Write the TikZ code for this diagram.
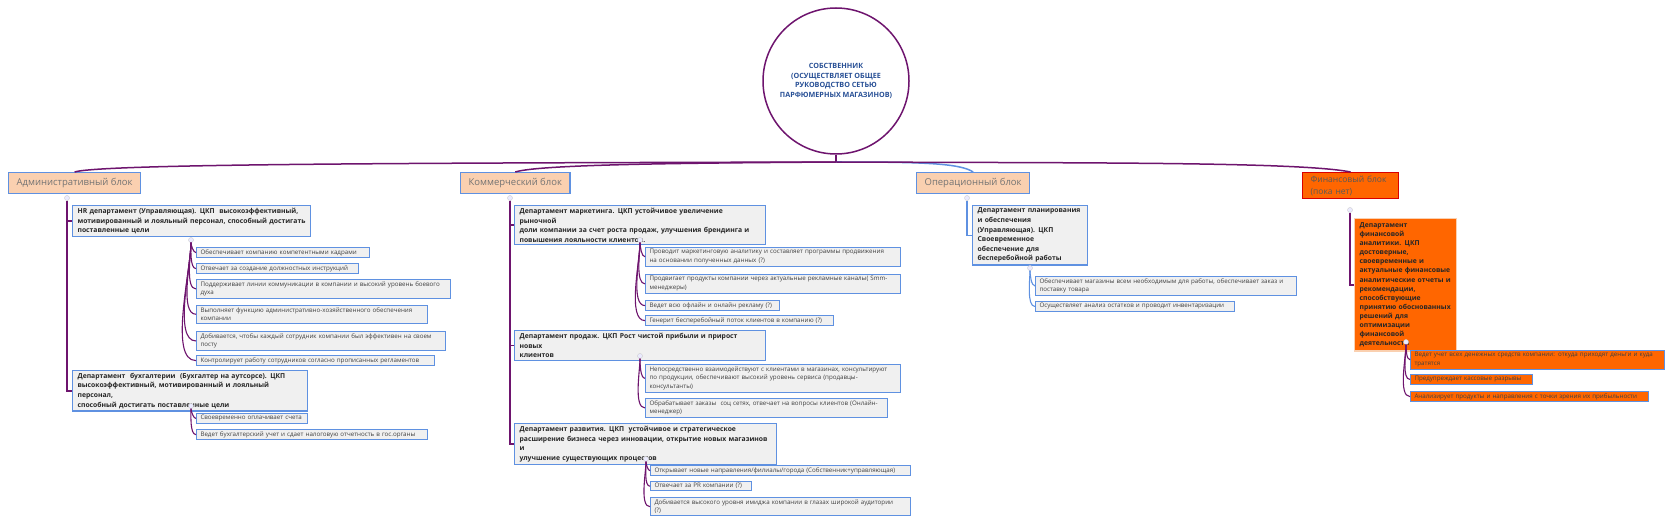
\documentclass[tikz,border=0pt]{standalone}
\usepackage{fontspec}
\setmainfont{Open Sans}
\definecolor{purp}{RGB}{110,20,110}
\definecolor{bord}{RGB}{95,145,225}
\definecolor{leafg}{RGB}{240,240,240}
\definecolor{peach}{RGB}{250,208,176}
\definecolor{orng}{RGB}{255,102,0}
\definecolor{ctext}{RGB}{40,80,150}
\definecolor{gtext}{RGB}{90,90,90}
\begin{document}
\begin{tikzpicture}[x=1pt,y=-1pt,
  block/.style={draw=bord,line width=1.2pt,fill=peach,anchor=north west,font=\fontsize{9.5}{12}\selectfont,text=gray!90!black,inner xsep=8pt,inner ysep=4pt,minimum height=21pt},
  dept/.style={draw=bord,line width=1.2pt,fill=leafg,anchor=north west,align=left,font=\bfseries\fontsize{6.8}{9.6}\selectfont,text=black!85,inner xsep=5pt,inner ysep=2.5pt},
  leaf/.style={draw=bord,line width=1pt,fill=leafg,anchor=north west,align=left,font=\fontsize{6.2}{8.7}\selectfont,text=black!75,inner xsep=4pt,inner ysep=2pt},
  con/.style={draw=purp,line width=1.5pt},
  lcon/.style={draw=purp,line width=1.1pt},
  dot/.style={circle,draw=gray!40,fill=blue!8,inner sep=0pt,minimum size=5pt}]
\useasboundingbox[fill=white] (0,0) rectangle (1673,529);
% root
\node[circle,draw=purp,line width=1.5pt,minimum size=146pt,align=center,font=\bfseries\fontsize{7.2}{9.5}\selectfont,text=ctext] (root) at (836,81) {СОБСТВЕННИК\\(ОСУЩЕСТВЛЯЕТ ОБЩЕЕ\\РУКОВОДСТВО СЕТЬЮ\\ПАРФЮМЕРНЫХ МАГАЗИНОВ)};
\coordinate (hub) at (836,162);
% blocks
\node[block,minimum width=118pt] (adm) at (8,172) {Административный блок};
\node[block,minimum width=98pt] (com) at (460,172) {Коммерческий блок};
\node[block,minimum width=101pt] (ops) at (916,172) {Операционный блок};
\node[block,fill=orng,draw=red!85!black,minimum width=93pt,align=left,text width=80pt,font=\fontsize{8.5}{12}\selectfont,text=gray!70!black,inner ysep=3pt] (fin) at (1302,172) {Финансовый блок\\(пока нет)};
% top connectors
\draw[con] (root.south) -- (hub);
\draw[con] (hub) .. controls (400,163) and (100,164) .. (adm.north);
\draw[con] (hub) .. controls (700,163) and (540,164) .. (com.north);
\draw[con,draw=bord] (hub) .. controls (920,162) and (960,163) .. (ops.north);
\draw[con] (hub) .. controls (1100,163) and (1300,162) .. (fin.north);
% ---------- admin
\node[dept,text width=228pt] (hr) at (72,205) {HR департамент (Управляющая). ЦКП\ \ высокоэффективный,\\мотивированный и лояльный персонал, способный достигать\\поставленные цели};
\node[dept,text width=225pt] (bu) at (72,370) {Департамент\ \ бухгалтерии\ \ (Бухгалтер на аутсорсе). ЦКП\\высокоэффективный, мотивированный и лояльный персонал,\\способный достигать поставленные цели};
\node[dot] (ad) at (67,198) {};
\draw[con] (ad) |- (hr.west);
\draw[con] (ad) |- (bu.west);
\node[leaf,text width=165pt] (h1) at (196,247) {Обеспечивает компанию компетентными кадрами};
\node[leaf,text width=154pt] (h2) at (196,263) {Отвечает за создание должностных инструкций};
\node[leaf,text width=246pt] (h3) at (196,279) {Поддерживает линии коммуникации в компании и высокий уровень боевого\\духа};
\node[leaf,text width=223pt] (h4) at (196,305) {Выполняет функцию административно-хозяйственного обеспечения\\компании};
\node[leaf,text width=241pt] (h5) at (196,331) {Добивается, чтобы каждый сотрудник компании был эффективен на своем\\посту};
\node[leaf,text width=230pt] (h6) at (196,355) {Контролирует работу сотрудников согласно прописанных регламентов};
\node[dot] (hd) at (191,240) {};
\foreach \n in {h1,h2,h3,h4,h5,h6} \draw[lcon] (hd) to[out=-90,in=180,looseness=0.6] (\n.west);
\node[leaf,text width=103pt] (b1) at (196,413) {Своевременно оплачивает счета};
\node[leaf,text width=223pt] (b2) at (196,429) {Ведет бухгалтерский учет и сдает налоговую отчетность в гос.органы};
\node[dot] (bd) at (191,406) {};
\foreach \n in {b1,b2} \draw[lcon] (bd) to[out=-90,in=180,looseness=0.6] (\n.west);
% ---------- commercial
\node[dept,text width=241pt] (mk) at (514,205) {Департамент маркетинга. ЦКП устойчивое увеличение рыночной\\доли компании за счет роста продаж, улучшения брендинга и\\повышения лояльности клиентов.};
\node[dept,text width=241pt] (sl) at (514,330) {Департамент продаж. ЦКП Рост чистой прибыли и прирост новых\\клиентов};
\node[dept,text width=252pt] (dv) at (514,423) {Департамент развития. ЦКП\ \ устойчивое и стратегическое\\расширение бизнеса через инновации, открытие новых магазинов и\\улучшение существующих процессов};
\node[dot] (cd) at (510,198) {};
\foreach \n in {mk,sl,dv} \draw[con] (cd) |- (\n.west);
\node[leaf,text width=247pt] (m1) at (645,247) {Проводит маркетинговую аналитику и составляет программы продвижения\\на основании полученных данных (?)};
\node[leaf,text width=247pt] (m2) at (645,274) {Продвигает продукты компании через актуальные рекламные каналы( Smm-\\менеджеры)};
\node[leaf,text width=126pt] (m3) at (645,300) {Ведет всю офлайн и онлайн рекламу (?)};
\node[leaf,text width=180pt] (m4) at (645,315) {Генерит бесперебойный поток клиентов в компанию (?)};
\node[dot] (md) at (640,240) {};
\foreach \n in {m1,m2,m3,m4} \draw[lcon] (md) to[out=-90,in=180,looseness=0.6] (\n.west);
\node[leaf,text width=247pt] (s1) at (645,364) {Непосредственно взаимодействуют с клиентами в магазинах, консультируют\\по продукции, обеспечивают высокий уровень сервиса (продавцы-\\консультанты)};
\node[leaf,text width=234pt] (s2) at (645,398) {Обрабатывает заказы\ \ соц сетях, отвечает на вопросы клиентов (Онлайн-\\менеджер)};
\node[dot] (sd) at (640,356) {};
\foreach \n in {s1,s2} \draw[lcon] (sd) to[out=-90,in=180,looseness=0.6] (\n.west);
\node[leaf,text width=252pt] (d1) at (650,465) {Открывает новые направления/филиалы/города (Собственник+управляющая)};
\node[leaf,text width=93pt] (d2) at (650,481) {Отвечает за PR компании (?)};
\node[leaf,text width=252pt] (d3) at (650,497) {Добивается высокого уровня имиджа компании в глазах широкой аудитории\\(?)};
\node[dot] (dd) at (646,459) {};
\foreach \n in {d1,d2,d3} \draw[lcon] (dd) to[out=-90,in=180,looseness=0.6] (\n.west);
% ---------- operational
\node[dept,text width=105pt] (pl) at (972,205) {Департамент планирования\\и обеспечения\\(Управляющая). ЦКП\\Своевременное\\обеспечение для\\бесперебойной работы};
\node[dot] (od) at (967,198) {};
\draw[con,draw=bord] (od) |- (pl.west);
\node[leaf,text width=253pt] (o1) at (1035,276) {Обеспечивает магазины всем необходимым для работы, обеспечивает заказ и\\поставку товара};
\node[leaf,text width=191pt] (o2) at (1035,301) {Осуществляет анализ остатков и проводит инвентаризации};
\node[dot] (pd) at (1030,268) {};
\foreach \n in {o1,o2} \draw[lcon,draw=bord] (pd) to[out=-90,in=180,looseness=0.6] (\n.west);
% ---------- financial
\node[dept,fill=orng,draw=peach,text width=92pt,font=\bfseries\fontsize{6.8}{9.1}\selectfont,inner ysep=4pt] (fa) at (1354,218) {Департамент финансовой\\аналитики. ЦКП\\достоверные,\\своевременные и\\актуальные финансовые\\аналитические отчеты и\\рекомендации,\\способствующие\\принятию обоснованных\\решений для\\оптимизации\\финансовой деятельности};
\node[dot] (fd) at (1350,210) {};
\draw[con] (fd) |- (fa.west);
\node[leaf,fill=orng,text width=246pt] (f1) at (1410,350) {Ведет учет всех денежных средств компании: откуда приходят деньги и куда\\тратятся};
\node[leaf,fill=orng,text width=114pt] (f2) at (1410,374) {Предупреждает кассовые разрывы};
\node[leaf,fill=orng,text width=230pt] (f3) at (1410,391) {Анализирует продукты и направления с точки зрения их прибыльности};
\node[dot] (ffd) at (1406,342) {};
\foreach \n in {f1,f2,f3} \draw[lcon] (ffd) to[out=-90,in=180,looseness=0.6] (\n.west);
\end{tikzpicture}
\end{document}
